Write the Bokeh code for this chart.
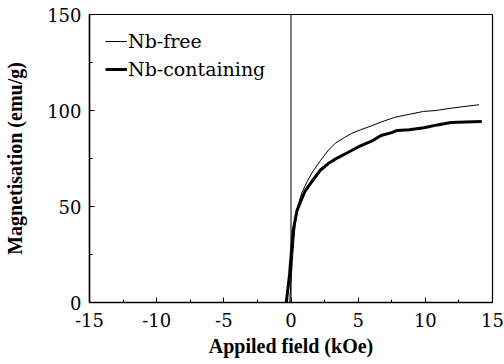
from bokeh.plotting import figure
from bokeh.models import FixedTicker, Span, Legend, LegendItem
from bokeh.embed import file_html
from bokeh.resources import INLINE

# Data
nb_free_x = [-0.1, 0.1, 0.3, 0.5, 0.8, 1.2, 1.6, 2.2, 2.8, 3.3, 4.0, 4.5, 5.2, 6.0, 6.7, 7.7, 8.8, 9.85, 10.8, 11.7, 12.8, 14.0]
nb_free_y = [0, 22, 40, 50, 57, 63, 68, 74, 79.5, 83, 86, 88, 90, 92, 94, 96.4, 98, 99.5, 100, 101, 102, 103]

nb_cont_x = [-0.35, -0.1, 0.15, 0.45, 0.8, 1.05, 1.6, 2.2, 2.8, 3.5, 4.2, 5.0, 6.0, 6.7, 7.5, 7.9, 8.8, 9.9, 10.9, 11.9, 13.0, 14.2]
nb_cont_y = [0, 15, 37, 48, 54, 58, 63.5, 69, 72.5, 75.5, 78, 81, 84, 87, 88.5, 89.6, 90, 91, 92.5, 93.7, 94, 94.3]

x_ticks = [-15, -10, -5, 0, 5, 10, 15]
x_tick_labels = ["-15", "-10", "-5", "0", "5", "10", "15"]
y_ticks = [0, 50, 100, 150]
y_tick_labels = ["0", "50", "100", "150"]

TEXT_FONT = "DejaVu Serif"
LABEL_FONT = "serif"

p = figure(width=504, height=364, x_range=(-15, 15), y_range=(0, 150),
           output_backend="svg", toolbar_location=None,
           min_border_left=89, min_border_right=12, min_border_top=14, min_border_bottom=62)
p.xgrid.visible = False
p.ygrid.visible = False
p.outline_line_color = "black"
p.outline_line_width = 1.2
p.background_fill_color = "white"
p.border_fill_color = "white"

for ax, ticks, labels in ((p.xaxis[0], x_ticks, x_tick_labels), (p.yaxis[0], y_ticks, y_tick_labels)):
    ax.major_label_overrides = {t: l for t, l in zip(ticks, labels)}
    ax.major_tick_in = 5
    ax.major_tick_out = 0
    ax.minor_tick_in = 3
    ax.minor_tick_out = 0
    ax.axis_line_width = 1.5
    ax.major_label_text_font = TEXT_FONT
    ax.major_label_text_font_size = "18px"
    ax.major_label_text_color = "black"
    ax.axis_label_text_font = LABEL_FONT
    ax.axis_label_text_font_style = "bold"
    ax.axis_label_text_font_size = "20px"
    ax.axis_label_text_color = "black"

p.xaxis[0].major_label_standoff = 10
p.yaxis[0].major_label_standoff = 8

p.xaxis[0].ticker = FixedTicker(ticks=x_ticks, minor_ticks=[-12.5, -7.5, -2.5, 2.5, 7.5, 12.5])
p.yaxis[0].ticker = FixedTicker(ticks=y_ticks, minor_ticks=[25, 75, 125])
p.xaxis.axis_label = "Appiled field (kOe)"
p.yaxis.axis_label = "Magnetisation (emu/g)"
p.xaxis.axis_label_standoff = 5
p.yaxis.axis_label_standoff = 18

p.add_layout(Span(location=0, dimension="height", line_color="black", line_width=1))

r1 = p.line(nb_free_x, nb_free_y, line_color="black", line_width=1)
r2 = p.line(nb_cont_x, nb_cont_y, line_color="black", line_width=3)

legend = Legend(items=[LegendItem(label="Nb-free", renderers=[r1]),
                       LegendItem(label="Nb-containing", renderers=[r2])],
                location="top_left")
legend.border_line_color = None
legend.background_fill_alpha = 0
legend.label_text_font = TEXT_FONT
legend.label_text_font_size = "19px"
legend.label_text_color = "black"
legend.glyph_width = 22
legend.glyph_height = 20
legend.label_standoff = 1
legend.spacing = 6
legend.padding = 0
legend.margin = 16
legend.label_height = 22
p.add_layout(legend)

open("out.html", "w").write(file_html(p, INLINE))
